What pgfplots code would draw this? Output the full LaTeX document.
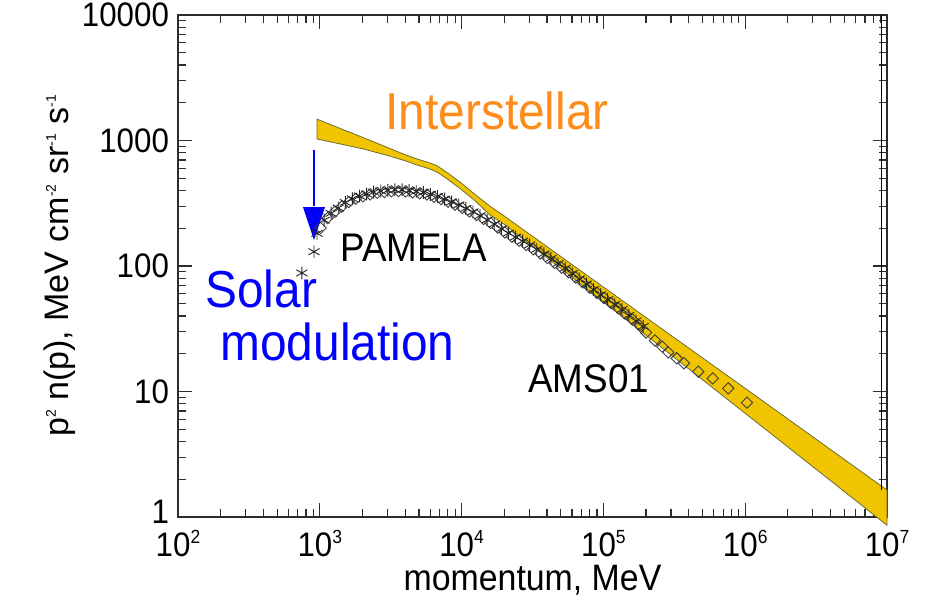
\documentclass[border=0pt]{standalone}
\usepackage{fontspec}
\setmainfont{Liberation Sans}[FakeStretch=0.92]
\newfontfamily\ylfont{Liberation Sans}
\usepackage{pgfplots}
\pgfplotsset{compat=1.18}
\definecolor{bandfill}{RGB}{240,196,0}
\definecolor{bandedge}{RGB}{110,110,50}
\definecolor{orangetxt}{RGB}{255,140,26}
\definecolor{axisgray}{RGB}{45,45,45}
\newcommand{\tl}[1]{10\raisebox{6.8pt}{\fontsize{9.5}{9.5}\selectfont #1}}
\newcommand{\ys}[1]{\raisebox{6.5pt}{\fontsize{7}{7}\selectfont #1}}

\pgfplotstableread{
p v
748 88
910 130
955 182
1072 232
1202 263
1349 290
1514 321
1698 343
1905 361
2138 375
2399 388
2692 395
3020 401
3388 405
3802 405
4266 399
4786 393
5370 386
6026 372
6761 358
7586 341
8511 324
9550 307
10715 288
12023 270
13490 252
15136 233
16982 216
19055 198
21380 183
23988 170
26915 158
30200 147
33884 136
38019 125
42658 115
47863 105
53703 96
60256 87
67608 79
75858 72
85114 65
95499 59
107152 54
120226 49.5
134896 45
151356 40.5
169824 36.5
190546 33
}\pamela

\pgfplotstableread{
p v
1012 201
1135 241
1274 270
1429 298
1603 324
1799 344
2018 359
2265 372
2541 383
2851 389
3199 394
3589 395
4027 393
4519 386
5070 380
5689 371
6383 356
7161 341
8035 325
9016 308
10116 290
11350 272
12735 255
14289 237
16032 220
17989 202
20184 185
22646 171
25410 159
28510 147
31989 136
35892 126
40272 116
45186 106
50699 97
56885 89
63826 81
71614 74
80353 67
90157 61
101158 55.5
113501 50.5
127350 46
142889 41.5
160325 37.5
179887 33.5
200000 29.5
231000 25.5
260000 22.8
287000 20.5
329000 18.4
370000 16.8
467000 14.4
590000 12.7
760000 10.6
1030000 8.15
}\ams

\begin{document}
\begin{tikzpicture}
\begin{axis}[
  xmode=log, ymode=log,
  xmin=1e2, xmax=1e7, ymin=1, ymax=1e4,
  width=354.5pt, height=251pt, scale only axis,
  clip=false,
  xtick={1e2,1e3,1e4,1e5,1e6,1e7},
  xticklabels={\tl{2},\tl{3},\tl{4},\tl{5},\tl{6},\tl{7}},
  minor xtick={200,300,400,500,600,700,800,900,2000,3000,4000,5000,6000,7000,8000,9000,20000,30000,40000,50000,60000,70000,80000,90000,200000,300000,400000,500000,600000,700000,800000,900000,2000000,3000000,4000000,5000000,6000000,7000000,8000000,9000000},
  ytick={1,10,100,1000,10000},
  yticklabels={\raisebox{5.5pt}{1},10,100,1000,10000},
  minor ytick={2,3,4,5,6,7,8,9,20,30,40,50,60,70,80,90,200,300,400,500,600,700,800,900,2000,3000,4000,5000,6000,7000,8000,9000},
  tick pos=both, tick align=inside,
  major tick length=7pt, minor tick length=4pt,
  every tick/.style={axisgray, line width=0.6pt},
  axis line style={axisgray, line width=0.8pt},
  ticklabel style={font=\fontsize{17}{17}\selectfont},
  xticklabel style={yshift=-3pt},
  yticklabel style={xshift=-1pt},
  xlabel={momentum, MeV},
  xlabel style={font=\fontsize{18.4}{18.4}\selectfont, at={(rel axis cs:0.5,-0.1454)}, anchor=base},
  ylabel={p\ys{2} n(p), MeV cm\ys{-2} sr\ys{-1} s\ys{-1}},
  ylabel style={font=\ylfont\fontsize{17}{17}\selectfont, at={(rel axis cs:-0.154,0.5)}, anchor=base},
]
\coordinate (BL) at (rel axis cs:0,0);
\coordinate (TR) at (rel axis cs:1,1);
% interstellar band
\addplot[fill=bandfill, draw=bandedge, line width=0.4pt] coordinates {
 (955,1480) (2000,1060) (3000,880) (4000,770) (4840,713) (5800,670) (6700,630) (8000,550) (10000,456) (12500,370) (15850,300) (20000,250) (100000,68) (1000000,10.6) (10000000,1.64)
 (10000000,0.86) (1000000,6.7) (100000,52) (20000,215) (15850,255) (12500,330) (10000,405) (8000,490) (6700,561) (5800,600) (4840,638) (4000,690) (3000,760) (2000,860) (955,1028)
} -- cycle;
\addplot[black, line width=0.5pt] coordinates {(9200000,1.64) (9200000,10000)};
% AMS01
\addplot[only marks, mark=square, mark size=2pt, mark options={rotate=45, draw=black!75, line width=0.45pt}] table[x=p, y=v] {\ams};
% PAMELA
\addplot[only marks, mark=asterisk, mark size=3.2pt, mark options={draw=black!85, line width=0.45pt}] table[x=p, y=v] {\pamela};
% solar modulation arrow
\draw[blue, line width=0.6pt] (axis cs:910,840) -- (axis cs:910,300);
\fill[blue] (axis cs:761,295) -- (axis cs:1088,295) -- (axis cs:910,161) -- cycle;
% annotations
\node[anchor=base, text=orangetxt, font=\fontsize{26}{26}\selectfont] at (axis cs:17800,1213) {Interstellar};
\node[anchor=base west, text=blue, font=\fontsize{26}{26}\selectfont, inner sep=0pt] at (axis cs:155,47.1) {Solar};
\node[anchor=base west, text=blue, font=\fontsize{26}{26}\selectfont, inner sep=0pt] at (axis cs:198,17.8) {modulation};
\node[anchor=base west, font=\fontsize{20}{20}\selectfont, inner sep=0pt] at (axis cs:1387,108) {PAMELA};
\node[anchor=base west, font=\fontsize{20}{20}\selectfont, inner sep=0pt] at (axis cs:29400,9.9) {AMS01};
\end{axis}
\pgfresetboundingbox
\path[use as bounding box] ([shift={(-89pt,-42.5pt)}]BL) rectangle ([shift={(19pt,7.5pt)}]TR);
\end{tikzpicture}
\end{document}
